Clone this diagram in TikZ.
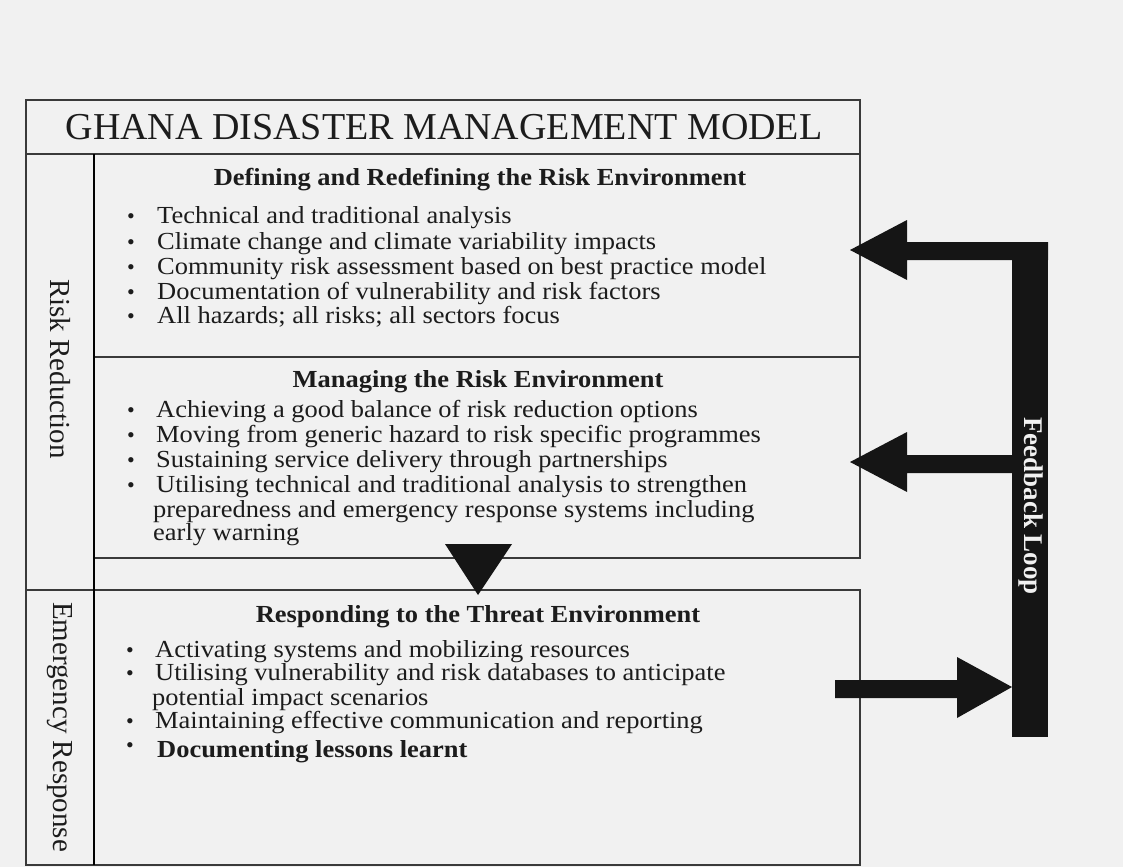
\documentclass[tikz,border=0pt]{standalone}
\usepackage{graphicx}
\usepackage{fontspec}
\setmainfont{Liberation Serif}
\definecolor{bg}{HTML}{F1F1F1}
\definecolor{ln}{HTML}{3A3A3A}
\definecolor{ink}{HTML}{151515}
\definecolor{txt}{HTML}{1C1C1C}
\newcommand\sxw[1]{\scalebox{1.08}[1]{#1}}
\begin{document}
\begin{tikzpicture}[x=1pt,y=-1pt,
  cell/.style={draw=ln,line width=2pt,inner sep=0pt,outer sep=0pt,anchor=north west},
  body/.style={anchor=base west,inner sep=0pt,text=txt,font=\fontsize{24.5}{26}\selectfont},
  bul/.style={anchor=base,inner sep=0pt,text=txt,font=\fontsize{22}{24}\selectfont},
  head/.style={anchor=base,inner sep=0pt,text=txt,font=\fontsize{24.5}{26}\selectfont\bfseries},
  side/.style={rotate=-90,inner sep=0pt,text=txt,font=\fontsize{29}{30}\selectfont},
  blk/.style={fill=ink,draw=none}]
\fill[bg] (0,0) rectangle (1123,867);
\useasboundingbox (0,0) rectangle (1123,867);
% frame cells
\node[cell,minimum width=834pt,minimum height=54pt] (title) at (26,100) {};
\node[text=txt,font=\fontsize{38}{40}\selectfont,anchor=base,inner sep=0pt] (ttl) at (444,139) {GHANA DISASTER MANAGEMENT MODEL};
\node[cell,minimum width=68pt,minimum height=436pt] (rr) at (26,154) {};
\node[cell,minimum width=68pt,minimum height=275pt] (er) at (26,590) {};
\node[cell,minimum width=766pt,minimum height=203pt] (b1) at (94,154) {};
\node[cell,minimum width=766pt,minimum height=201pt] (b2) at (94,357) {};
\node[cell,minimum width=766pt,minimum height=275pt] (b3) at (94,590) {};
\draw[black,line width=2.6pt] (rr.north east) -- (er.south east);
% side labels
\node[side] (lrr) at (60,369) {Risk Reduction};
\node[side] (ler) at (60,727) {Emergency Response};
% section 1
\node[head] (h1) at (480,185) {\sxw{Defining and Redefining the Risk Environment}};
\foreach \y/\t in {223/Technical and traditional analysis,
                   249/Climate change and climate variability impacts,
                   274/Community risk assessment based on best practice model,
                   299/Documentation of vulnerability and risk factors,
                   323/All hazards; all risks; all sectors focus}{
  \node[bul] at (131,\y) {•};
  \node[body] at (157,\y) {\sxw{\t}};
}
% section 2
\node[head] (h2) at (478,387) {\sxw{Managing the Risk Environment}};
\foreach \y/\t in {417/Achieving a good balance of risk reduction options,
                   442/Moving from generic hazard to risk specific programmes,
                   467/Sustaining service delivery through partnerships,
                   492/Utilising technical and traditional analysis to strengthen}{
  \node[bul] at (131,\y) {•};
  \node[body] at (156,\y) {\sxw{\t}};
}
\node[body] at (153,517) {\sxw{preparedness and emergency response systems including}};
\node[body] at (153,540) {\sxw{early warning}};
% section 3
\node[head] (h3) at (478,622) {\sxw{Responding to the Threat Environment}};
\foreach \y/\t in {657/Activating systems and mobilizing resources,
                   680/Utilising vulnerability and risk databases to anticipate,
                   728/Maintaining effective communication and reporting}{
  \node[bul] at (130,\y) {•};
  \node[body] at (155,\y) {\sxw{\t}};
}
\node[body] at (152,705) {\sxw{potential impact scenarios}};
\node[bul] at (130,752) {•};
\node[body,font=\fontsize{24.5}{26}\selectfont\bfseries] at (157,757) {\sxw{Documenting lessons learnt}};
% down triangle
\coordinate (tA) at (445,544);
\coordinate (tB) at (512,544);
\coordinate (tC) at (478,595);
\fill[ink] (tA) -- (tB) -- (tC) -- cycle;
% feedback loop
\node[blk,minimum width=36pt,minimum height=495pt,inner sep=0pt,anchor=north west] (fb) at (1012,242) {};
\node[rotate=-90,text=bg,font=\fontsize{27}{28}\selectfont\bfseries,inner sep=0pt] (fbt) at (1031,506) {Feedback Loop};
% arrow 1
\fill[ink] (1048,242) -- (907,242) -- (907,220) -- (850,250) -- (907,280) -- (907,260) -- (1048,260) -- cycle;
% arrow 2
\fill[ink] (1013,455) -- (907,455) -- (907,432) -- (850,462) -- (907,492) -- (907,473) -- (1013,473) -- cycle;
% arrow 3
\fill[ink] (835,680) -- (957,680) -- (957,657) -- (1012,687) -- (957,718) -- (957,698) -- (835,698) -- cycle;
\end{tikzpicture}
\end{document}
